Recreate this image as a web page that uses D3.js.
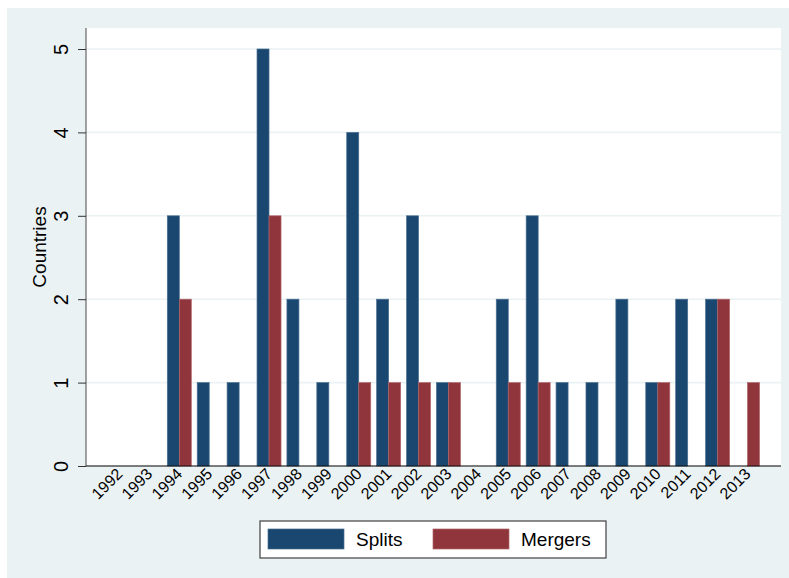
<!DOCTYPE html>
<html>
<head>
<meta charset="utf-8">
<script src="https://cdn.jsdelivr.net/npm/d3@7"></script>
<style>
  html, body { margin: 0; padding: 0; background: #ffffff; }
  svg { display: block; font-family: "Liberation Sans", Arial, sans-serif; }
</style>
</head>
<body>
<svg id="chart" width="789" height="578"></svg>
<script>
const years = ["1992","1993","1994","1995","1996","1997","1998","1999","2000","2001","2002","2003","2004","2005","2006","2007","2008","2009","2010","2011","2012","2013"];
const splits  = [0,0,3,1,1,5,2,1,4,2,3,1,0,2,3,1,1,2,1,2,2,0];
const mergers = [0,0,2,0,0,3,0,0,1,1,1,1,0,1,1,0,0,0,1,0,2,1];
const seriesNames = ["Splits","Mergers"];
const seriesColors = ["#1a476f","#90353b"];
const seriesStrokes = ["#4a6f92","#b0676c"];
const yTicks = [0,1,2,3,4,5];

const svg = d3.select("#chart");
const bg = "#eaf2f3";

// outer graph region
svg.append("rect").attr("x",7).attr("y",8).attr("width",782).attr("height",570).attr("fill",bg);

const plot = {left:86, right:781, top:28, bottom:466};
svg.append("rect").attr("x",plot.left).attr("y",plot.top)
  .attr("width",plot.right-plot.left).attr("height",plot.bottom-plot.top).attr("fill","#ffffff");

const x0 = d3.scaleBand().domain(years).range([plot.left, plot.right]).paddingInner(0).paddingOuter(0.62);
const x1 = d3.scaleBand().domain(seriesNames).range([0, x0.bandwidth()]).paddingInner(0).paddingOuter(0.246);
const y = d3.scaleLinear().domain([0,5]).range([plot.bottom, 49]);

// gridlines
svg.append("g").selectAll("line").data(yTicks.filter(d=>d>0)).join("line")
  .attr("x1",plot.left).attr("x2",plot.right)
  .attr("y1",d=>y(d)).attr("y2",d=>y(d))
  .attr("stroke",bg).attr("stroke-width",1.6);

// bars
const data = years.map((yr,i)=>({year:yr, values:[splits[i], mergers[i]]}));
const groups = svg.append("g").selectAll("g").data(data).join("g")
  .attr("transform", d=>`translate(${x0(d.year)},0)`);
groups.selectAll("rect").data(d=>d.values.map((v,j)=>({v, j})).filter(e=>e.v>0)).join("rect")
  .attr("x", e=>x1(seriesNames[e.j]))
  .attr("width", x1.bandwidth())
  .attr("y", e=>y(e.v))
  .attr("height", e=>y(0)-y(e.v))
  .attr("fill", e=>seriesColors[e.j])
  .attr("stroke", e=>seriesStrokes[e.j])
  .attr("stroke-width",0.7);

// y axis
const yAxis = d3.axisLeft(y).tickValues(yTicks).tickSize(8).tickPadding(0).tickFormat(d3.format("d"));
const gy = svg.append("g").attr("transform",`translate(${plot.left},0)`).call(yAxis);
gy.select(".domain").attr("stroke","#666666").attr("stroke-width",1.2).attr("d",`M0,${plot.top}V${plot.bottom}`);
gy.selectAll(".tick line").attr("stroke","#333333").attr("stroke-width",1);
gy.selectAll(".tick text")
  .attr("x",null).attr("dy",null)
  .attr("transform","translate(-18,0) rotate(-90)")
  .attr("text-anchor","middle")
  .attr("font-size",20).attr("fill","#000");

// x axis
const xAxis = d3.axisBottom(x0).tickSize(0).tickPadding(0);
const gx = svg.append("g").attr("transform",`translate(0,${plot.bottom})`).call(xAxis);
gx.select(".domain").attr("stroke","#000").attr("stroke-width",1.2).attr("d",`M${plot.left},0H${plot.right}`);
gx.selectAll(".tick text")
  .attr("y",null).attr("dy",null)
  .attr("transform","translate(4,9) rotate(-45)")
  .attr("text-anchor","end")
  .attr("font-size",16).attr("fill","#000");

// y title
svg.append("text").attr("transform",`translate(46,${(plot.top+plot.bottom)/2}) rotate(-90)`)
  .attr("text-anchor","middle").attr("font-size",19).text("Countries");

// legend
const lg = svg.append("g");
lg.append("rect").attr("x",260).attr("y",521).attr("width",346).attr("height",37)
  .attr("fill","#ffffff").attr("stroke","#404040").attr("stroke-width",1.2);
const lx = [268, 433];
seriesNames.forEach((n,i)=>{
  lg.append("rect").attr("x",lx[i]).attr("y",529).attr("width",76).attr("height",20)
    .attr("fill",seriesColors[i]).attr("stroke",seriesStrokes[i]).attr("stroke-width",0.7);
  lg.append("text").attr("x",lx[i]+88).attr("y",546).attr("font-size",19).text(n);
});
</script>
</body>
</html>
